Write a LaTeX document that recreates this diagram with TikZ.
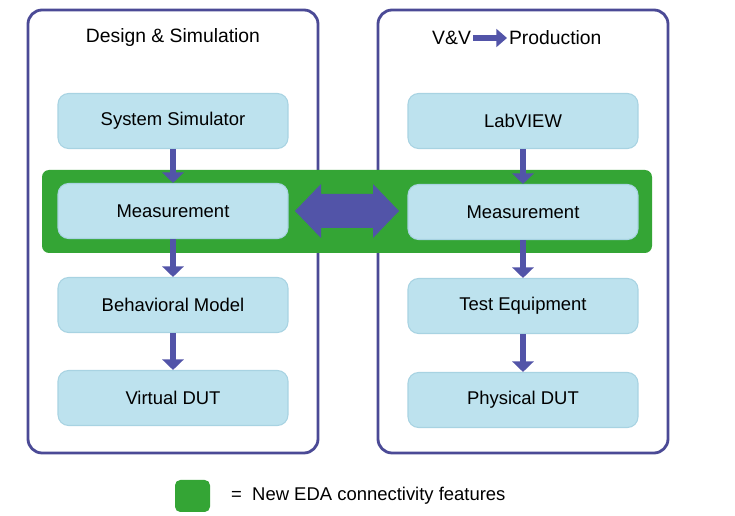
\documentclass[tikz,border=0pt]{standalone}
\usepackage{fontspec}
\setmainfont{Liberation Sans}
\usetikzlibrary{arrows.meta,shapes.arrows}
\definecolor{frame}{HTML}{4B4A96}
\definecolor{boxfill}{HTML}{BDE2EE}
\definecolor{boxline}{HTML}{A8D3E2}
\definecolor{band}{HTML}{34A535}
\definecolor{arr}{HTML}{5254A8}
\begin{document}
\begin{tikzpicture}[x=0.02cm,y=-0.02cm,
  panel/.style={draw=frame,line width=1.6pt,rounded corners=8pt,fill=white},
  box/.style={draw=boxline,line width=0.6pt,fill=boxfill,rounded corners=6pt,minimum width=4.6cm,minimum height=1.1cm,font=\fontsize{10.5}{13}\selectfont},
  down/.style={draw=arr,line width=3.2pt,-{Triangle[length=6pt,width=12pt]}},
  ttl/.style={font=\fontsize{11}{13}\selectfont}]
\useasboundingbox (0,0) rectangle (735,516);
\fill[white] (0,0) rectangle (735,516);
\draw[panel] (28,10) rectangle (318,453);
\draw[panel] (378,10) rectangle (668,453);
\fill[band,rounded corners=4pt] (42,170) rectangle (652,253);
\node[ttl] (t1) at (173,38) {Design \& Simulation};
\node[ttl,anchor=east,inner xsep=1pt] (t2a) at (473,38) {V\&V};
\node[ttl,anchor=west,inner xsep=1pt] (t2b) at (507,38) {Production};
\draw[draw=arr,line width=3pt,-{Triangle[length=6pt,width=10pt]}] (t2a.east) -- (t2b.west);
\node[box] (a1) at (173,121) {System Simulator};
\node[box] (a2) at (173,211) {Measurement};
\node[box] (a3) at (173,305) {Behavioral Model};
\node[box] (a4) at (173,398) {Virtual DUT};
\node[box] (b1) at (523,121) {LabVIEW};
\node[box] (b2) at (523,212) {Measurement};
\node[box] (b3) at (523,306) {Test Equipment};
\node[box] (b4) at (523,400) {Physical DUT};
\foreach \p/\q in {a1/a2,a2/a3,a3/a4,b1/b2,b2/b3,b3/b4}{\draw[down] (\p.south) -- (\q.north);}
\coordinate (dbl) at (347,211);
\fill[arr] ([xshift=-52*0.02cm]dbl) -- ++(26,-27) -- ++(0,10) -- ++(52,0) -- ++(0,-10) -- ++(26,27)
  -- ++(-26,27) -- ++(0,-10) -- ++(-52,0) -- ++(0,10) -- cycle;
\fill[band,rounded corners=3pt] (175,480) rectangle (210,512);
\node[anchor=west,font=\fontsize{10.5}{13}\selectfont] (leg) at (225,496) {=\ \ New EDA connectivity features};
\end{tikzpicture}
\end{document}
